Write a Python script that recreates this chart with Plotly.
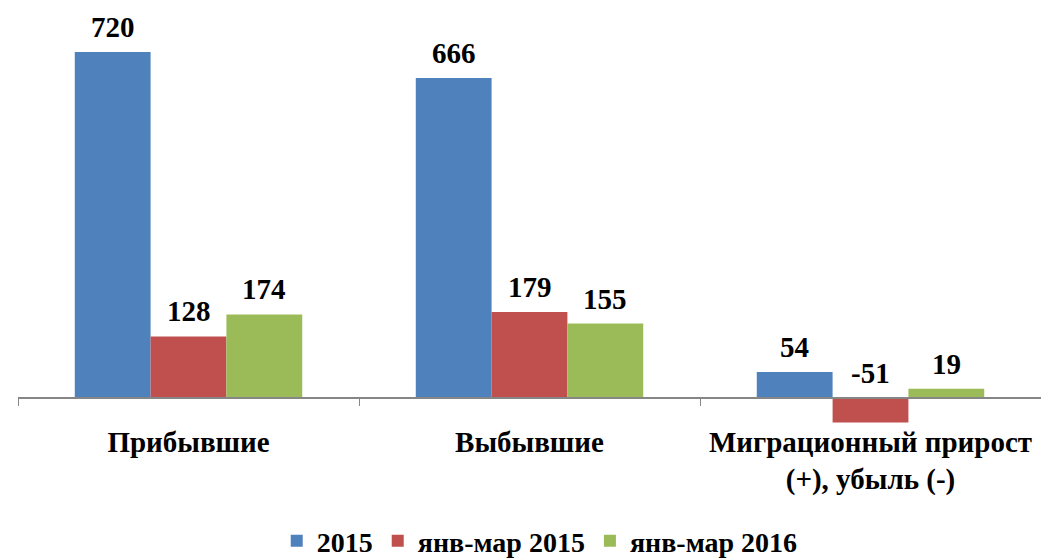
import plotly.graph_objects as go

categories = ["Прибывшие", "Выбывшие", "Миграционный прирост<br>(+), убыль (-)"]
series_names = ["2015", "янв-мар 2015", "янв-мар 2016"]
values_2015 = [720, 666, 54]
values_jm2015 = [128, 179, -51]
values_jm2016 = [174, 155, 19]
colors = ["#4F81BD", "#C0504D", "#9BBB59"]

all_values = [values_2015, values_jm2015, values_jm2016]
FONT = "Liberation Serif"
FS = 29

fig = go.Figure()
for name, vals, col in zip(series_names, all_values, colors):
    fig.add_trace(go.Bar(
        x=categories, y=vals, name=f"<b>{name}</b>",
        marker=dict(color=col, line=dict(width=0)),
    ))

# value labels (always above the zero line / bar top)
bar_px = 1023 / 3 * (1 - 0.333) / 3
for i, vals in enumerate(all_values):
    for cat, v in zip(categories, vals):
        fig.add_annotation(
            x=cat, y=max(v, 0), xref="x", yref="y",
            text=f"<b>{v}</b>", showarrow=False,
            xshift=(i - 1) * bar_px, yshift=7, yanchor="bottom",
            font=dict(family=FONT, size=FS, color="black"),
        )

top_px, bot_px, zero_px = 10, 430, 398
scale = (398 - 52) / 720.0
ymax = (zero_px - top_px) / scale
ymin = -(bot_px - zero_px) / scale

fig.update_layout(
    width=1041, height=559,
    margin=dict(l=18, r=0, t=top_px, b=559 - bot_px, autoexpand=False),
    paper_bgcolor="white", plot_bgcolor="white",
    barmode="group", bargap=0.333, bargroupgap=0,
    font=dict(family=FONT, size=FS, color="black"),
    showlegend=True,
    legend=dict(
        orientation="h", x=0.51, xanchor="center",
        y=(bot_px - 566) / (bot_px - top_px), yanchor="bottom",
        font=dict(family=FONT, size=28, color="black"),
        traceorder="normal",
    ),
    xaxis=dict(
        anchor="free", position=(bot_px - zero_px) / (bot_px - top_px),
        automargin=False,
        showline=True, linecolor="#868686", linewidth=1.5,
        ticks="outside", tickson="boundaries", ticklen=7, tickcolor="#868686",
        tickfont=dict(family=FONT, size=FS, color="black"),
        ticklabelstandoff=18,
        tickvals=categories,
        ticktext=[f"<b>{c}</b>" for c in categories],
        range=[-0.5, 2.5],
    ),
    yaxis=dict(
        range=[ymin, ymax], visible=False, showgrid=False, zeroline=False,
        automargin=False,
    ),
)

fig.write_html("out.html", config={"displayModeBar": False},
               post_script="document.body.style.margin='0';")
